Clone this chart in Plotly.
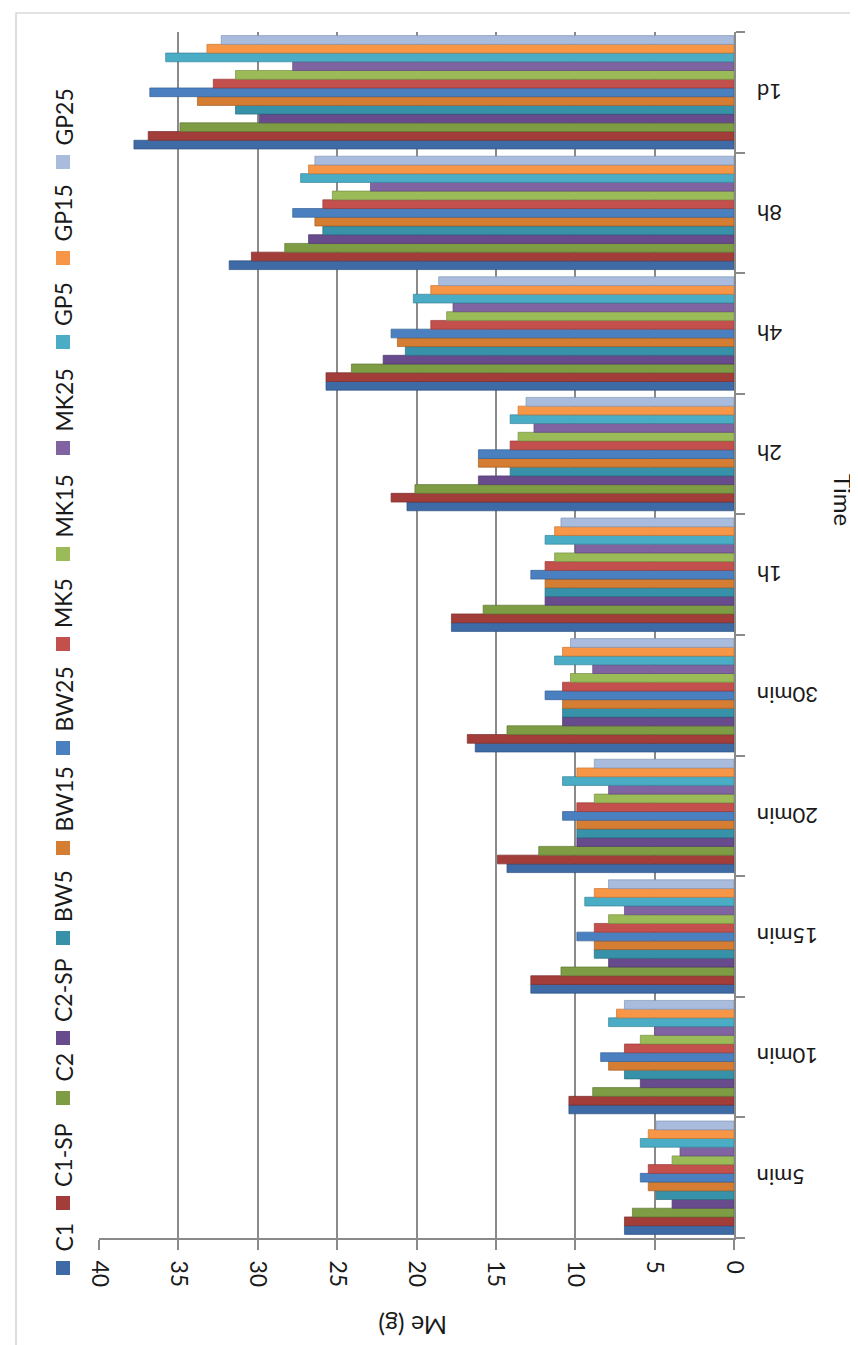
import plotly.graph_objects as go

categories = ["5min", "10min", "15min", "20min", "30min", "1h", "2h", "4h", "8h", "1d"]
series_names = ["C1", "C1-SP", "C2", "C2-SP", "BW5", "BW15", "BW25",
                "MK5", "MK15", "MK25", "GP5", "GP15", "GP25"]

C1    = [6.9, 10.4, 12.8, 14.3, 16.3, 17.8, 20.6, 25.7, 31.8, 37.8]
C1_SP = [6.9, 10.4, 12.8, 14.9, 16.8, 17.8, 21.6, 25.7, 30.4, 36.9]
C2    = [6.4, 8.9, 10.9, 12.3, 14.3, 15.8, 20.1, 24.1, 28.3, 34.9]
C2_SP = [3.9, 5.9, 7.9, 9.9, 10.8, 11.9, 16.1, 22.1, 26.8, 29.9]
BW5   = [4.9, 6.9, 8.8, 9.9, 10.8, 11.9, 14.1, 20.7, 25.9, 31.4]
BW15  = [5.4, 7.9, 8.8, 9.9, 10.8, 11.9, 16.1, 21.2, 26.4, 33.8]
BW25  = [5.9, 8.4, 9.9, 10.8, 11.9, 12.8, 16.1, 21.6, 27.8, 36.8]
MK5   = [5.4, 6.9, 8.8, 9.9, 10.8, 11.9, 14.1, 19.1, 25.9, 32.8]
MK15  = [3.9, 5.9, 7.9, 8.8, 10.3, 11.3, 13.6, 18.1, 25.3, 31.4]
MK25  = [3.4, 5.0, 6.9, 7.9, 8.9, 10.0, 12.6, 17.7, 22.9, 27.8]
GP5   = [5.9, 7.9, 9.4, 10.8, 11.3, 11.9, 14.1, 20.2, 27.3, 35.8]
GP15  = [5.4, 7.4, 8.8, 9.9, 10.8, 11.3, 13.6, 19.1, 26.8, 33.2]
GP25  = [4.9, 6.9, 7.9, 8.8, 10.3, 10.9, 13.1, 18.6, 26.4, 32.3]

series_values = [C1, C1_SP, C2, C2_SP, BW5, BW15, BW25, MK5, MK15, MK25, GP5, GP15, GP25]

value_ticks = [0, 5, 10, 15, 20, 25, 30, 35, 40]
value_tick_labels = ["0", "5", "10", "15", "20", "25", "30", "35", "40"]

colors = ["#3E6AA5", "#A23D3A", "#7E9C44", "#684B8C", "#3791A9", "#D47D33", "#4A80C0",
          "#C4504D", "#9BBB59", "#8064A2", "#4BACC6", "#F79646", "#A9BCDD"]
edges = ["#2E5283", "#7D2D2B", "#5F7833", "#4E386B", "#286E81", "#A65F24", "#376196",
         "#99393A", "#779244", "#614A7E", "#358499", "#C97634", "#8396B8"]

# legend square centres (pixel rows)
legend_rows = [1260, 1195, 1090, 1030, 930, 840, 740, 636, 546, 440, 334, 250, 154]

W, H = 858, 1345
L, R, T, B = 91, 726, 24, 1230

def px(xp):
    return (xp - L) / (R - L)

def py(yp):
    return (B - yp) / (B - T)

FONT = "Lato, 'Open Sans', sans-serif"
TXT = "#1a1a1a"

fig = go.Figure()
for name, vals, c, e in zip(series_names, series_values, colors, edges):
    fig.add_trace(go.Bar(
        y=categories, x=vals, name=name, orientation="h",
        marker=dict(color=c, line=dict(color=e, width=0.7)),
        showlegend=False,
    ))

shapes = []
annotations = []
for name, c, yrow in zip(series_names, colors, legend_rows):
    shapes.append(dict(type="rect", xref="paper", yref="paper",
                       x0=px(48), x1=px(62), y0=py(yrow + 7), y1=py(yrow - 7),
                       fillcolor=c, line=dict(width=0)))
    annotations.append(dict(text=name, xref="paper", yref="paper",
                            x=px(55), y=py(yrow - 14), xanchor="center", yanchor="bottom",
                            textangle=-90, showarrow=False,
                            font=dict(family=FONT, size=23, color=TXT)))

# category labels (upside-down, as in the picture)
for cat in categories:
    annotations.append(dict(text=cat, xref="paper", yref="y",
                            x=px(747), y=cat, xanchor="left", yanchor="middle",
                            textangle=180, showarrow=False,
                            font=dict(family=FONT, size=22, color=TXT)))

annotations.append(dict(text="Me (g)", xref="paper", yref="paper",
                        x=px(405), y=py(1318), xanchor="center", yanchor="middle",
                        textangle=180, showarrow=False,
                        font=dict(family=FONT, size=25, color=TXT)))
annotations.append(dict(text="Time", xref="paper", yref="paper",
                        x=px(836), y=py(492), xanchor="center", yanchor="middle",
                        textangle=90, showarrow=False,
                        font=dict(family=FONT, size=24, color=TXT)))

# outer chart border
shapes.append(dict(type="rect", xref="paper", yref="paper",
                   x0=px(8), x1=px(900), y0=py(1339), y1=py(5),
                   line=dict(color="#C8C8C8", width=1.2), fillcolor="rgba(0,0,0,0)",
                   layer="below"))

fig.update_layout(
    width=W, height=H,
    margin=dict(l=L, r=W - R, t=T, b=H - B, pad=0),
    paper_bgcolor="white", plot_bgcolor="white",
    barmode="group", bargap=0.06, bargroupgap=0.0,
    font=dict(family=FONT, size=22, color=TXT),
    xaxis=dict(range=[40, 0], tickvals=value_ticks, ticktext=value_tick_labels,
               tickangle=90, showgrid=True, gridcolor="#8A8A8A", gridwidth=1.8,
               showline=True, linecolor="#8A8A8A", linewidth=1.8,
               ticks="outside", ticklen=10, tickcolor="#8A8A8A", tickwidth=1.5,
               zeroline=False, tickfont=dict(size=23, color=TXT),
               ticklabelstandoff=6),
    yaxis=dict(categoryorder="array", categoryarray=categories, side="right",
               showticklabels=False, showgrid=False, showline=True, linecolor="#8A8A8A",
               linewidth=1.8, ticks="outside", ticklen=9, tickcolor="#8A8A8A",
               tickwidth=1.5, tickson="boundaries"),
    shapes=shapes, annotations=annotations,
)

fig.write_html("out.html")
